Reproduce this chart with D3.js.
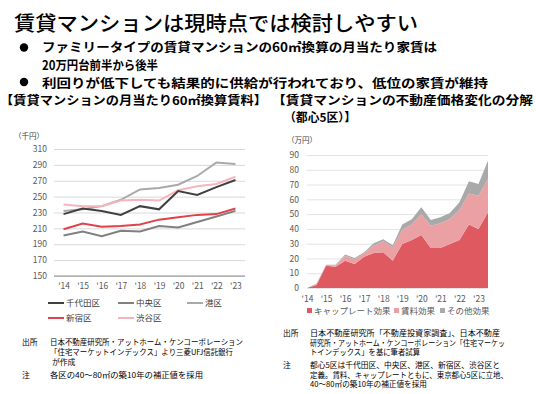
<!DOCTYPE html>
<html>
<head>
<meta charset="utf-8">
<script src="https://d3js.org/d3.v7.min.js"></script>
<style>
  body { margin: 0; background: #fff; }
  text { font-family: "Noto Sans CJK JP", "Noto Sans", sans-serif; }
</style>
</head>
<body>
<svg id="chart" width="536" height="394"></svg>
<script>
// left chart: monthly rent per 60m2 (thousand yen)
var years = ["'14", "'15", "'16", "'17", "'18", "'19", "'20", "'21", "'22", "'23"];
var wardNames = ["千代田区", "中央区", "港区", "新宿区", "渋谷区"];
var chiyoda = [228, 235, 232, 227, 238, 234, 257, 252, 262, 271];
var chuo    = [201, 206, 200, 207, 206, 213, 211, 218, 225, 232];
var minato  = [232, 234, 238, 246, 259, 261, 265, 276, 293, 291];
var shinjuku = [209, 216, 212, 213, 215, 221, 224, 227, 228, 235];
var shibuya = [240, 238, 238, 245, 246, 245, 258, 263, 266, 275];
var wardColors = ["#404040", "#808080", "#a9a9a9", "#e0424c", "#f4b6ba"];
var rentTicks = [150, 170, 190, 210, 230, 250, 270, 290, 310];

// right chart: price change decomposition, half-yearly (10k yen)
var periods = ["14H1","14H2","15H1","15H2","16H1","16H2","17H1","17H2","18H1","18H2",
               "19H1","19H2","20H1","20H2","21H1","21H2","22H1","22H2","23H1","23H2"];
var capRateEffect = [0, 2, 15, 14.4, 18.5, 16.3, 21.2, 23.7, 24.2, 18.5, 29.8, 32.5, 35.9, 27, 27, 29.8, 32.5, 42.9, 40, 51.2];
var rentEffect    = [0, 0.5, 0.5, 0.9, 3.3, 3.2, 2.3, 5, 7.4, 9, 9.7, 10.4, 14.2, 15.2, 16.8, 16.9, 20.3, 21.1, 22.5, 22.6];
var otherEffect   = [0, 0.5, 0.3, 0.5, 0.8, 0.8, 0.7, 1.5, 1.4, 1.5, 3.4, 3.6, 4.5, 3.8, 4.1, 4.1, 5.2, 8.2, 7.9, 12.4];
var effectNames = ["キャップレート効果", "賃料効果", "その他効果"];
var effectColors = ["#de5a60", "#eba0a3", "#a9a9a9"];
var priceTicks = [0, 10, 20, 30, 40, 50, 60, 70, 80, 90];

var svg = d3.select("#chart");
svg.append("rect").attr("width", 536).attr("height", 394).attr("fill", "#fff");

// text helper: squeeze/stretch to the width seen in the reference
function label(x, y, t, size, w, bold) {
  var el = svg.append("text").attr("x", x).attr("y", y).attr("font-size", size)
    .attr("fill", "#000").text(t);
  if (bold) el.attr("font-weight", bold);
  if (w) el.attr("textLength", w).attr("lengthAdjust", "spacingAndGlyphs");
  return el;
}

// header text
label(14, 31, "賃貸マンションは現時点では検討しやすい", 20.5, 404, 500);

svg.append("circle").attr("cx", 24).attr("cy", 47.5).attr("r", 4.2).attr("fill", "#000");
svg.append("circle").attr("cx", 24).attr("cy", 82).attr("r", 4.2).attr("fill", "#000");
// first bullet wraps onto two lines
var b1 = svg.append("text").attr("font-size", 12.5).attr("font-weight", "bold").attr("fill", "#000");
b1.append("tspan").attr("x", 42).attr("y", 52)
  .attr("textLength", 395).attr("lengthAdjust", "spacingAndGlyphs")
  .text("ファミリータイプの賃貸マンションの60㎡換算の月当たり家賃は");
b1.append("tspan").attr("x", 42).attr("y", 69.5)
  .attr("textLength", 116).attr("lengthAdjust", "spacingAndGlyphs")
  .text("20万円台前半から後半");
label(42, 87.5, "利回りが低下しても結果的に供給が行われており、低位の家賃が維持", 12.5, 446, "bold");

label(0, 104.5, "【賃貸マンションの月当たり60㎡換算賃料】", 12, 267, "bold");
label(272, 104.5, "【賃貸マンションの不動産価格変化の分解", 12, 261, "bold");
label(284, 121.5, "（都心5区）】", 12, 72, "bold");

// ---------- left line chart ----------
var x1 = d3.scalePoint().domain(years).range([54, 245]).padding(0.5);
var y1 = d3.scaleLinear().domain([150, 310]).range([276, 149]);

var g1 = svg.append("g");
g1.append("g").attr("transform", "translate(54,0)")
  .call(d3.axisLeft(y1).tickValues(rentTicks).tickSize(-191).tickPadding(7))
  .call(function(g) {
    g.select(".domain").remove();
    g.selectAll(".tick line").attr("stroke", "#d9d9d9");
    g.selectAll(".tick text").attr("font-size", 8.5).attr("fill", "#595959");
  });
g1.append("line").attr("x1", 54).attr("x2", 245).attr("y1", y1(150)).attr("y2", y1(150))
  .attr("stroke", "#8c8c8c");
g1.append("g").attr("transform", "translate(0,276)")
  .call(d3.axisBottom(x1).tickSize(0).tickPadding(7))
  .call(function(g) {
    g.select(".domain").remove();
    g.selectAll(".tick text").attr("font-size", 8.5).attr("fill", "#595959");
  });
g1.append("text").attr("x", 14).attr("y", 139).attr("font-size", 7.5).attr("fill", "#404040").text("（千円）");

var wardSeries = [chiyoda, chuo, minato, shinjuku, shibuya];
var line1 = d3.line().x(function(d, i) { return x1(years[i]); }).y(function(d) { return y1(d); });
// draw lighter ones first
[2, 4, 1, 0, 3].forEach(function(k) {
  g1.append("path").attr("d", line1(wardSeries[k])).attr("fill", "none")
    .attr("stroke", wardColors[k]).attr("stroke-width", 2);
});

var legPos = [[48, 303], [118, 303], [187, 303], [48, 318], [118, 318]];
wardNames.forEach(function(n, k) {
  var p = legPos[k];
  g1.append("line").attr("x1", p[0]).attr("x2", p[0] + 16).attr("y1", p[1]).attr("y2", p[1])
    .attr("stroke", wardColors[k]).attr("stroke-width", 2);
  g1.append("text").attr("x", p[0] + 18).attr("y", p[1] + 3).attr("font-size", 8.5)
    .attr("fill", "#404040").text(n);
});

// ---------- right stacked area chart ----------
var x2 = d3.scaleLinear().domain([0, periods.length - 1]).range([307, 488]);
var y2 = d3.scaleLinear().domain([0, 90]).range([288, 155]);

var g2 = svg.append("g");
g2.append("g").attr("transform", "translate(307,0)")
  .call(d3.axisLeft(y2).tickValues(priceTicks).tickSize(-181).tickPadding(8))
  .call(function(g) {
    g.select(".domain").remove();
    g.selectAll(".tick line").attr("stroke", "#e3e3e3");
    g.selectAll(".tick text").attr("font-size", 8.5).attr("fill", "#595959");
  });
g2.append("text").attr("x", 287).attr("y", 143).attr("font-size", 7.5).attr("fill", "#404040").text("（万円）");

var rows = periods.map(function(p, i) {
  return {cap: capRateEffect[i], rent: rentEffect[i], other: otherEffect[i]};
});
var stacked = d3.stack().keys(["cap", "rent", "other"])(rows);
var area2 = d3.area()
  .x(function(d, i) { return x2(i); })
  .y0(function(d) { return y2(d[0]); })
  .y1(function(d) { return y2(d[1]); });
g2.selectAll("path.layer").data(stacked).enter().append("path")
  .attr("class", "layer")
  .attr("d", area2)
  .attr("fill", function(d, i) { return effectColors[i]; });

g2.append("g").attr("transform", "translate(0,288)")
  .call(d3.axisBottom(x2).tickValues(d3.range(0, 20, 2)).tickSize(0).tickPadding(8)
    .tickFormat(function(d) { return years[d / 2]; }))
  .call(function(g) {
    g.select(".domain").remove();
    g.selectAll(".tick text").attr("font-size", 8.5).attr("fill", "#595959");
  });

var effLeg = [307, 394, 440];
effectNames.forEach(function(n, k) {
  g2.append("rect").attr("x", effLeg[k]).attr("y", 308).attr("width", 5).attr("height", 5)
    .attr("fill", effectColors[k]);
  g2.append("text").attr("x", effLeg[k] + 7).attr("y", 314).attr("font-size", 8.5)
    .attr("fill", "#595959").text(n);
});

// ---------- notes ----------
var fs = 7.8;
label(22, 345, "出所", fs);
label(50, 345, "日本不動産研究所・アットホーム・ケンコーポレーション", fs, 193);
label(50, 355, "「住宅マーケットインデックス」より三菱UFJ信託銀行", fs, 183);
label(52, 364.5, "が作成", fs);
label(22, 378, "注", fs);
label(50, 378, "各区の40～80㎡の築10年の補正値を採用", fs, 153);

label(283, 336, "出所", fs);
label(310, 336, "日本不動産研究所「不動産投資家調査」、日本不動産", fs, 190);
label(310, 345.5, "研究所・アットホーム・ケンコーポレーション「住宅マーケッ", fs, 195);
label(310, 355, "トインデックス」を基に筆者試算", fs, 110);
label(283, 368, "注", fs);
label(310, 368, "都心5区は千代田区、中央区、港区、新宿区、渋谷区と", fs, 190);
label(310, 377.5, "定義。賃料、キャップレートともに、東京都心5区に立地、", fs, 198);
label(310, 387, "40～80㎡の築10年の補正値を採用", fs, 117);
</script>
</body>
</html>
